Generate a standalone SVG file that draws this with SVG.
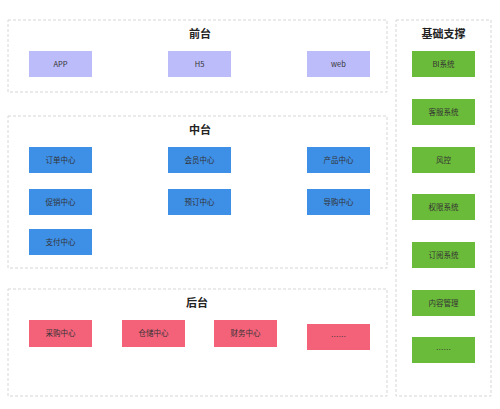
<svg xmlns="http://www.w3.org/2000/svg" width="500" height="409" viewBox="0 0 500 409">
<style>
.c{fill:#fff;stroke:#d6d6d6;stroke-width:1;stroke-dasharray:3,2}
.t{font-family:"Noto Sans CJK SC","Liberation Sans",sans-serif;font-size:11px;font-weight:bold;fill:#222;text-anchor:middle}
.l{font-family:"Noto Sans CJK SC","Liberation Sans",sans-serif;font-size:7.5px;fill:#333;text-anchor:middle}
.f{fill:#bcbcfa}
.b{fill:#3e8fe6}
.g{fill:#6bbb3a}
.p{fill:#f4627a}
</style>
<rect width="500" height="409" fill="#fff"/>
<g id="frontend">
<rect class="c" x="8" y="20" width="379" height="72"/>
<text class="t" x="200" y="38">前台</text>
<g id="app"><rect class="f" x="29" y="51" width="63" height="26"/><text class="l" x="60.5" y="67">APP</text></g>
<g id="h5"><rect class="f" x="168" y="51" width="63" height="26"/><text class="l" x="199.5" y="67">H5</text></g>
<g id="web"><rect class="f" x="307" y="51" width="63" height="26"/><text class="l" x="338.5" y="67">web</text></g>
</g>
<g id="middle">
<rect class="c" x="8" y="116" width="379" height="152"/>
<text class="t" x="200" y="134">中台</text>
<g id="order"><rect class="b" x="29" y="147" width="63" height="26"/><text class="l" x="60.5" y="163">订单中心</text></g>
<g id="member"><rect class="b" x="168" y="147" width="63" height="26"/><text class="l" x="199.5" y="163">会员中心</text></g>
<g id="product"><rect class="b" x="307" y="147" width="63" height="26"/><text class="l" x="338.5" y="163">产品中心</text></g>
<g id="promo"><rect class="b" x="29" y="189" width="63" height="26"/><text class="l" x="60.5" y="205">促销中心</text></g>
<g id="booking"><rect class="b" x="168" y="189" width="63" height="26"/><text class="l" x="199.5" y="205">预订中心</text></g>
<g id="guide"><rect class="b" x="307" y="189" width="63" height="26"/><text class="l" x="338.5" y="205">导购中心</text></g>
<g id="pay"><rect class="b" x="29" y="229" width="63" height="26"/><text class="l" x="60.5" y="245">支付中心</text></g>
</g>
<g id="backend">
<rect class="c" x="8" y="289" width="379" height="107"/>
<text class="t" x="197" y="307">后台</text>
<g id="purchase"><rect class="p" x="29" y="320" width="63" height="27"/><text class="l" x="60.5" y="336">采购中心</text></g>
<g id="storage"><rect class="p" x="122" y="320" width="63" height="27"/><text class="l" x="153.5" y="336">仓储中心</text></g>
<g id="finance"><rect class="p" x="214" y="320" width="63" height="27"/><text class="l" x="245.5" y="336">财务中心</text></g>
<g id="more-back"><rect class="p" x="307" y="324" width="63" height="26"/><text class="l" x="338.5" y="340">……</text></g>
</g>
<g id="support">
<rect class="c" x="396" y="20" width="95" height="376"/>
<text class="t" x="443.5" y="38">基础支撑</text>
<g id="bi"><rect class="g" x="412" y="51" width="63" height="26"/><text class="l" x="443.5" y="67">BI系统</text></g>
<g id="cs"><rect class="g" x="412" y="99" width="63" height="26"/><text class="l" x="443.5" y="115">客服系统</text></g>
<g id="risk"><rect class="g" x="412" y="147" width="63" height="26"/><text class="l" x="443.5" y="163">风控</text></g>
<g id="perm"><rect class="g" x="412" y="194" width="63" height="26"/><text class="l" x="443.5" y="210">权限系统</text></g>
<g id="sub"><rect class="g" x="412" y="242" width="63" height="26"/><text class="l" x="443.5" y="258">订阅系统</text></g>
<g id="content"><rect class="g" x="412" y="290" width="63" height="26"/><text class="l" x="443.5" y="306">内容管理</text></g>
<g id="more-sup"><rect class="g" x="412" y="337" width="63" height="26"/><text class="l" x="443.5" y="353">……</text></g>
</g>
<g id="connectors"></g>
</svg>
